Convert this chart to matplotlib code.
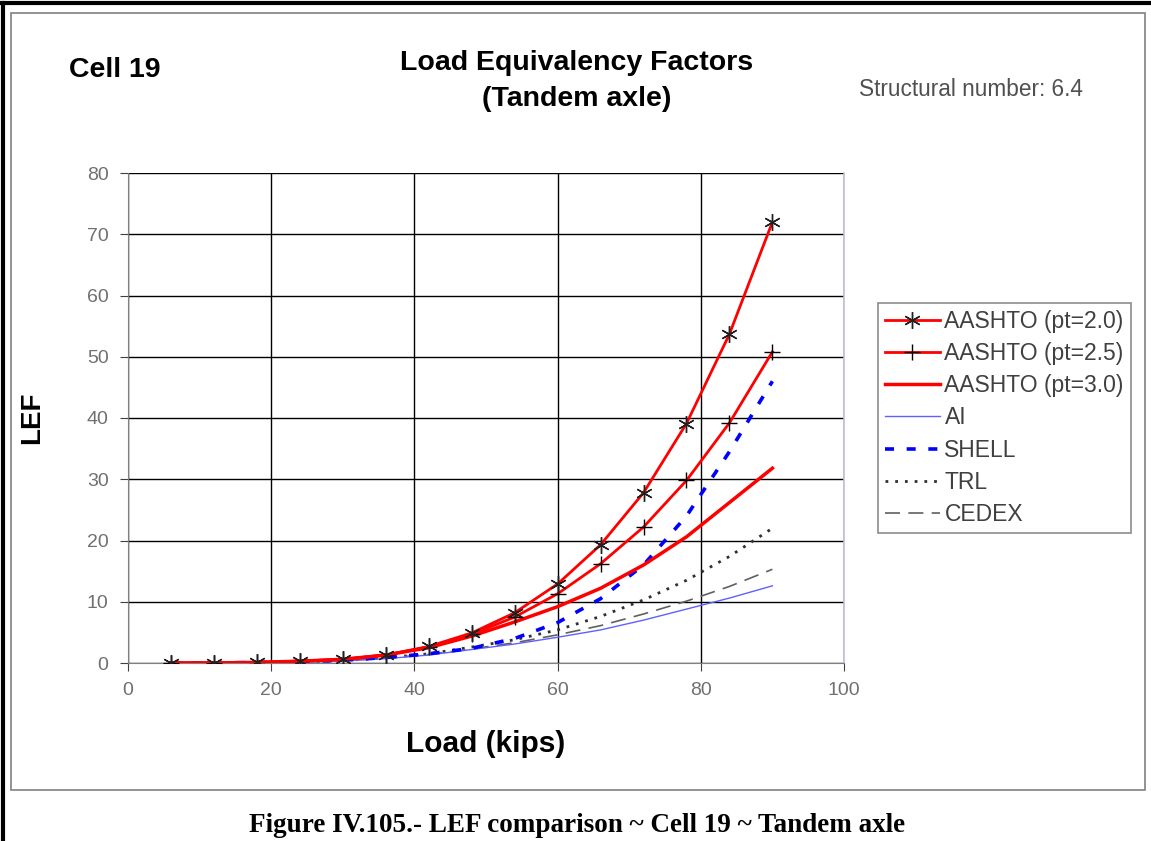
import matplotlib
matplotlib.use("Agg")
import matplotlib.pyplot as plt
from matplotlib.patches import Rectangle
from matplotlib.lines import Line2D

loads = [6, 12, 18, 24, 30, 36, 42, 48, 54, 60, 66, 72, 78, 84, 90]
aashto_20 = [0.0, 0.02, 0.1, 0.3, 0.6, 1.3, 2.7, 4.9, 8.2, 12.9, 19.3, 27.8, 39.1, 53.7, 72.0]
aashto_25 = [0.0, 0.02, 0.1, 0.3, 0.6, 1.3, 2.6, 4.7, 7.5, 11.3, 16.2, 22.2, 29.8, 39.2, 50.8]
aashto_30 = [0.0, 0.02, 0.1, 0.3, 0.6, 1.3, 2.5, 4.4, 6.7, 9.2, 12.2, 16.0, 20.6, 26.2, 31.8]
ai = [0.0, 0.01, 0.05, 0.15, 0.35, 0.7, 1.3, 2.2, 3.1, 4.2, 5.4, 7.0, 8.8, 10.6, 12.6]
shell = [0.0, 0.02, 0.08, 0.2, 0.45, 0.9, 1.5, 2.4, 4.0, 6.6, 10.5, 16.0, 24.0, 34.5, 46.0]
trl = [0.0, 0.01, 0.05, 0.15, 0.4, 0.85, 1.5, 2.6, 3.8, 5.4, 7.6, 10.3, 13.5, 17.4, 22.0]
cedex = [0.0, 0.01, 0.05, 0.15, 0.4, 0.8, 1.4, 2.3, 3.3, 4.6, 6.1, 8.0, 10.1, 12.5, 15.3]
x_ticks = [0, 20, 40, 60, 80, 100]
y_ticks = [0, 10, 20, 30, 40, 50, 60, 70, 80]

plt.rcParams['font.family'] = ['Liberation Sans', 'DejaVu Sans']

fig = plt.figure(figsize=(11.51, 8.41), dpi=100)
W, H = 1151, 841

def fx(px):
    return px / W

def fy(py):
    return 1 - py / H

# frames
fig.add_artist(Line2D([0, 1], [fy(3), fy(3)], color='black', lw=3, transform=fig.transFigure))
fig.add_artist(Line2D([fx(3), fx(3)], [fy(3), 0], color='black', lw=3, transform=fig.transFigure))
fig.add_artist(Rectangle((fx(11), fy(790)), fx(1145) - fx(11), fy(13) - fy(790),
                         transform=fig.transFigure, fill=False, edgecolor='#808080', lw=1.2))

ax = fig.add_axes([fx(128), fy(663), fx(844) - fx(128), fy(173) - fy(663)])

ax.plot(loads, trl, color='#303030', lw=2, ls=(0, (1, 2.5)), label='TRL', zorder=3)
ax.plot(loads, cedex, color='#606060', lw=1.2, ls=(0, (9, 5)), label='CEDEX', zorder=3)
ax.plot(loads, ai, color='#6060ff', lw=1, label='AI', zorder=3)
ax.plot(loads, shell, color='#0000ff', lw=2.6, ls=(0, (2.5, 3.5)), label='SHELL', zorder=4)
ax.plot(loads, aashto_30, color='red', lw=2.5, label='AASHTO (pt=3.0)', zorder=5)
ax.plot(loads, aashto_25, color='red', lw=2, marker='+', ms=12, mec='black', mew=1,
        label='AASHTO (pt=2.5)', zorder=6)
ax.plot(loads, aashto_20, color='red', lw=2, marker=(6, 2, 0), ms=12, mec='#202020', mew=1,
        label='AASHTO (pt=2.0)', zorder=7)

ax.set_xlim(0, 100)
ax.set_ylim(0, 80)
ax.set_xticks(x_ticks)
ax.set_yticks(y_ticks)
ax.grid(True, color='black', lw=1)
ax.set_axisbelow(True)
ax.spines['top'].set_visible(False)
ax.spines['right'].set_color('#c0c0d8')
ax.spines['right'].set_linewidth(1.2)
ax.spines['left'].set_color('#808080')
ax.spines['bottom'].set_color('#808080')
ax.tick_params(axis='both', direction='out', length=6, color='#404040', labelsize=14,
               labelcolor='#707070', pad=8)
ax.set_xlabel('Load (kips)', fontsize=21.5, fontweight='bold', labelpad=22)
ax.set_ylabel('LEF', fontsize=20, fontweight='bold', labelpad=30)

handles, labels = ax.get_legend_handles_labels()
order = ['AASHTO (pt=2.0)', 'AASHTO (pt=2.5)', 'AASHTO (pt=3.0)', 'AI', 'SHELL', 'TRL', 'CEDEX']
hd = dict(zip(labels, handles))
leg = fig.legend([hd[o] for o in order], order, loc='upper left',
                 bbox_to_anchor=(fx(878), fy(303)), fontsize=16.5, frameon=True, fancybox=False,
                 edgecolor='#707070', handlelength=2.4, labelspacing=0.4, borderpad=0.3,
                 handletextpad=0.2, borderaxespad=0, labelcolor='#404040')
leg.get_frame().set_linewidth(1.2)

fig.text(fx(115), fy(70), 'Cell 19', fontsize=20.5, fontweight='bold', ha='center', va='center')
fig.text(fx(577), fy(81), 'Load Equivalency Factors\n(Tandem axle)', fontsize=20.5, fontweight='bold',
         ha='center', va='center', linespacing=1.55)
fig.text(fx(971), fy(90), 'Structural number: 6.4', fontsize=16.3, color='#505050', ha='center', va='center')
fig.text(fx(577), fy(825), 'Figure IV.105.- LEF comparison ~ Cell 19 ~ Tandem axle', fontsize=19.5,
         fontweight='bold', family=['Liberation Serif', 'DejaVu Serif'], ha='center', va='center')

fig.savefig('out.png', dpi=100)
